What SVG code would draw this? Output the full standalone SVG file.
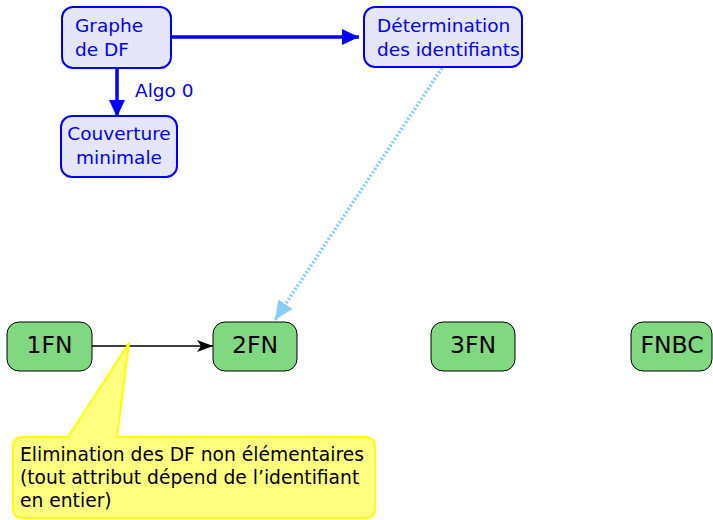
<svg xmlns="http://www.w3.org/2000/svg" width="713" height="520" viewBox="0 0 713 520">
<style>
text{font-family:"DejaVu Sans","Liberation Sans",sans-serif;}
.bbox{fill:#e6e6fb;stroke:#0000ff;stroke-width:2;}
.btxt{fill:#0000ff;font-size:18.5px;}
.gbox{fill:#80d980;stroke:#000;stroke-width:1;}
.gtxt{fill:#000;font-size:23.5px;text-anchor:middle;}
.ytxt{fill:#000;font-size:18.7px;}
.barrow{stroke:#0000ff;stroke-width:3.5;fill:none;}
</style>
<defs>
<marker id="bh" markerUnits="userSpaceOnUse" markerWidth="20" markerHeight="18" refX="17" refY="8" orient="auto">
<path d="M0,0 L17,8 L0,16 z" fill="#0000ff"/>
</marker>
<marker id="lh" markerUnits="userSpaceOnUse" markerWidth="22" markerHeight="20" refX="19" refY="8.5" orient="auto">
<path d="M0,0 L19,8.5 L0,17 z" fill="#87cefa"/>
</marker>
<marker id="kh" markerUnits="userSpaceOnUse" markerWidth="18" markerHeight="14" refX="16" refY="6" orient="auto">
<path d="M0,0 L16,6 L0,12 L4,6 z" fill="#000"/>
</marker>
</defs>
<g id="connectors">
<line class="barrow" x1="171" y1="37" x2="359" y2="37" marker-end="url(#bh)"/>
<line class="barrow" x1="117" y1="68" x2="117" y2="117" marker-end="url(#bh)"/>
<line x1="442" y1="68" x2="275" y2="320" stroke="#87cefa" stroke-width="3.5" stroke-dasharray="2 2" marker-end="url(#lh)"/>
<line x1="92" y1="346" x2="213" y2="346" stroke="#000" stroke-width="1.6" marker-end="url(#kh)"/>
<text class="btxt" x="135" y="97">Algo 0</text>
</g>
<g id="graphe">
<rect class="bbox" x="62" y="7" width="109" height="61" rx="11"/>
<text class="btxt" x="75" y="32">Graphe</text>
<text class="btxt" x="75" y="56">de DF</text>
</g>
<g id="couverture">
<rect class="bbox" x="61" y="116" width="116" height="61" rx="11"/>
<text class="btxt" x="119" y="140" text-anchor="middle">Couverture</text>
<text class="btxt" x="119" y="164" text-anchor="middle">minimale</text>
</g>
<g id="determination">
<rect class="bbox" x="364" y="7" width="158" height="60" rx="11"/>
<text class="btxt" x="377" y="32">Détermination</text>
<text class="btxt" x="377" y="56">des identifiants</text>
</g>
<g id="fn1">
<rect class="gbox" x="7" y="322" width="85" height="49" rx="12"/>
<text class="gtxt" x="49.5" y="353">1FN</text>
</g>
<g id="fn2">
<rect class="gbox" x="213" y="322" width="84" height="49" rx="12"/>
<text class="gtxt" x="255" y="353">2FN</text>
</g>
<g id="fn3">
<rect class="gbox" x="431" y="322" width="84" height="49" rx="12"/>
<text class="gtxt" x="473" y="353">3FN</text>
</g>
<g id="fnbc">
<rect class="gbox" x="631" y="322" width="81" height="49" rx="12"/>
<text class="gtxt" x="672" y="353">FNBC</text>
</g>
<g id="callout">
<path d="M23,437 L68,437 L129,343 L117,437 L365,437 Q375,437 375,447 L375,508 Q375,518 365,518 L23,518 Q13,518 13,508 L13,447 Q13,437 23,437 Z" fill="#ffff80" stroke="#ffff00" stroke-width="2" stroke-linejoin="round"/>
<text class="ytxt" x="20" y="461">Elimination des DF non élémentaires</text>
<text class="ytxt" x="20" y="484">(tout attribut dépend de l’identifiant</text>
<text class="ytxt" x="20" y="507">en entier)</text>
</g>
</svg>
